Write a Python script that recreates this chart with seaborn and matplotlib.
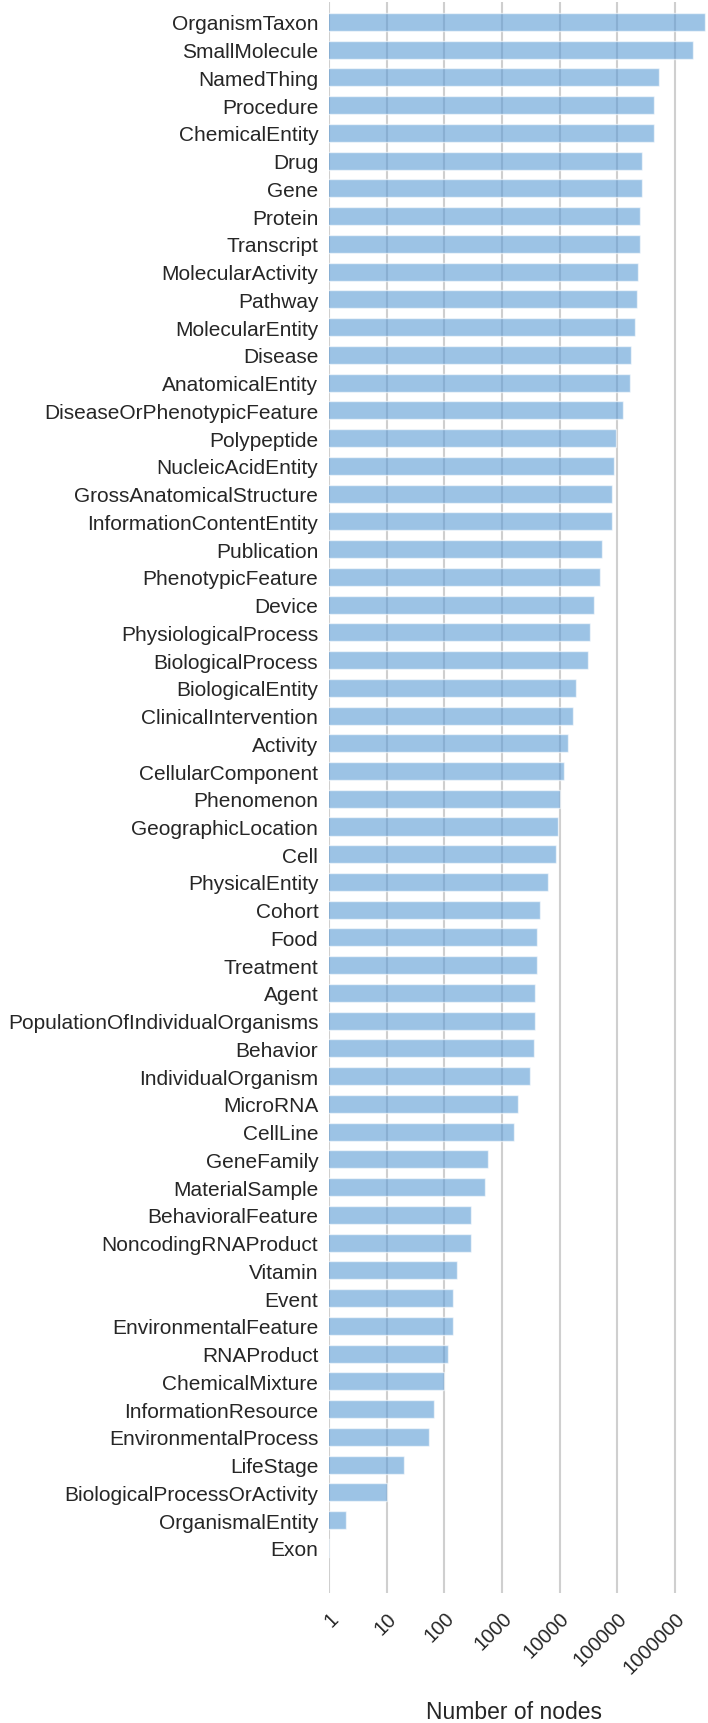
import matplotlib
matplotlib.use("Agg")
import pandas as pd
import seaborn as sns
import matplotlib.pyplot as plt
from matplotlib.ticker import FixedLocator, FixedFormatter, NullLocator

categories = [
    "OrganismTaxon", "SmallMolecule", "NamedThing", "Procedure", "ChemicalEntity",
    "Drug", "Gene", "Protein", "Transcript", "MolecularActivity",
    "Pathway", "MolecularEntity", "Disease", "AnatomicalEntity", "DiseaseOrPhenotypicFeature",
    "Polypeptide", "NucleicAcidEntity", "GrossAnatomicalStructure", "InformationContentEntity", "Publication",
    "PhenotypicFeature", "Device", "PhysiologicalProcess", "BiologicalProcess", "BiologicalEntity",
    "ClinicalIntervention", "Activity", "CellularComponent", "Phenomenon", "GeographicLocation",
    "Cell", "PhysicalEntity", "Cohort", "Food", "Treatment",
    "Agent", "PopulationOfIndividualOrganisms", "Behavior", "IndividualOrganism", "MicroRNA",
    "CellLine", "GeneFamily", "MaterialSample", "BehavioralFeature", "NoncodingRNAProduct",
    "Vitamin", "Event", "EnvironmentalFeature", "RNAProduct", "ChemicalMixture",
    "InformationResource", "EnvironmentalProcess", "LifeStage", "BiologicalProcessOrActivity", "OrganismalEntity",
    "Exon",
]

node_counts = [
    3400000, 2100000, 530000, 434000, 430000,
    267000, 267000, 250000, 250000, 234000,
    218000, 204000, 176000, 165000, 124000,
    95000, 88000, 83000, 83000, 54600,
    51000, 39000, 34000, 31800, 19600,
    17100, 14100, 12200, 10000, 9350,
    8700, 6200, 4600, 4060, 4060,
    3800, 3800, 3550, 3060, 1880,
    1650, 583, 503, 290, 290,
    167, 144, 144, 117, 97,
    67, 54, 20, 10, 2,
    1,
]

tick_values = [1, 10, 100, 1000, 10000, 100000, 1000000]
tick_labels = ["1", "10", "100", "1000", "10000", "100000", "1000000"]

df = pd.DataFrame({"category": categories, "count": node_counts})

sns.set_style("white")
plt.rcParams["font.family"] = ["Liberation Sans", "DejaVu Sans"]
text_color = "#262626"

fig = plt.figure(figsize=(7.08, 17.24), dpi=100)
ax = fig.add_axes([328.7 / 708, 1 - 1594 / 1724, (708 - 328.7) / 708, (1594 - 3) / 1724])

sns.barplot(data=df, x="count", y="category", orient="h", color="#5b9bd5",
            alpha=0.6, saturation=1, width=0.65, ax=ax)

ax.set_xscale("log")
ax.set_xlim(0.985, 3.78e6)
ax.set_ylim(56.63, -0.72)

ax.xaxis.set_major_locator(FixedLocator(tick_values))
ax.xaxis.set_major_formatter(FixedFormatter(tick_labels))
ax.xaxis.set_minor_locator(NullLocator())

ax.grid(axis="x", color="#cfcfcf", linewidth=1.5)
ax.grid(axis="y", visible=False)
ax.set_axisbelow(True)
for s in ax.spines.values():
    s.set_visible(False)

ax.tick_params(axis="y", length=0, pad=7.5, labelsize=15, labelcolor=text_color)
ax.tick_params(axis="x", length=0, pad=11, labelsize=14.5, labelcolor=text_color)
for lbl in ax.get_xticklabels():
    lbl.set_rotation(45)
    lbl.set_ha("right")
    lbl.set_va("top")
    lbl.set_rotation_mode("anchor")

ax.set_ylabel("")
ax.set_xlabel("Number of nodes", fontsize=16.5, color=text_color, va="top")
ax.xaxis.set_label_coords((514 - 328.7) / (708 - 328.7), (1594 - 1701) / 1591)

fig.savefig("out.png", dpi=100)
